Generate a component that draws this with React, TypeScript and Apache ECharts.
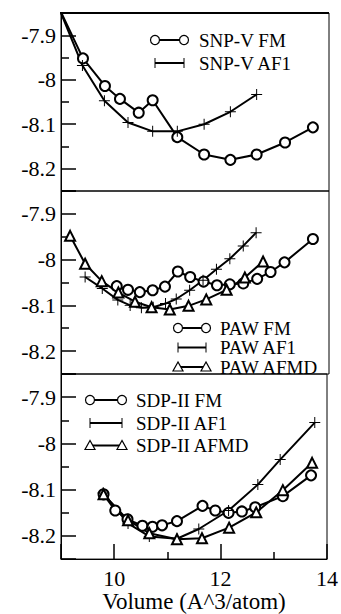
import React, { useEffect, useRef } from "react";
import * as echarts from "echarts";

// Panel 1: SNP-V
const snpFmX = [8.85, 9.41, 9.82, 10.1, 10.45, 10.71, 11.17, 11.67, 12.16, 12.65, 13.18, 13.7];
const snpFmY = [-7.81, -7.952, -8.014, -8.043, -8.074, -8.046, -8.129, -8.168, -8.18, -8.168, -8.141, -8.107];
const snpAf1X = [8.85, 9.4, 9.81, 10.25, 10.71, 11.17, 11.67, 12.16, 12.65];
const snpAf1Y = [-7.806, -7.968, -8.047, -8.096, -8.116, -8.116, -8.1, -8.072, -8.033];

// Panel 2: PAW
const pawFmX = [10.04, 10.25, 10.47, 10.71, 10.94, 11.18, 11.41, 11.66, 11.91, 12.15, 12.4, 12.66, 12.91, 13.17, 13.7];
const pawFmY = [-8.058, -8.066, -8.071, -8.067, -8.059, -8.026, -8.038, -8.048, -8.056, -8.054, -8.052, -8.042, -8.027, -8.006, -7.955];
const pawAf1X = [9.45, 9.77, 10.06, 10.29, 10.5, 10.72, 10.95, 11.15, 11.4, 11.65, 11.9, 12.15, 12.4, 12.64];
const pawAf1Y = [-8.038, -8.063, -8.088, -8.1, -8.105, -8.104, -8.096, -8.086, -8.067, -8.045, -8.021, -7.998, -7.97, -7.941];
const pawAfmdX = [9.17, 9.45, 9.76, 10.07, 10.38, 10.69, 11.03, 11.38, 11.71, 12.09, 12.43, 12.77];
const pawAfmdY = [-7.948, -8.009, -8.047, -8.072, -8.092, -8.104, -8.109, -8.101, -8.087, -8.066, -8.039, -8.004];

// Panel 3: SDP-II
const sdpFmX = [9.8, 10.02, 10.25, 10.53, 10.72, 10.9, 11.18, 11.66, 11.9, 12.15, 12.4, 12.65, 13.17, 13.7];
const sdpFmY = [-8.11, -8.145, -8.164, -8.178, -8.18, -8.177, -8.168, -8.135, -8.145, -8.15, -8.147, -8.138, -8.114, -8.069];
const sdpAf1X = [9.79, 10.26, 10.66, 11.18, 11.59, 12.15, 12.7, 13.12, 13.77];
const sdpAf1Y = [-8.107, -8.173, -8.201, -8.206, -8.185, -8.145, -8.089, -8.035, -7.955];
const sdpAfmdX = [9.8, 10.26, 10.66, 11.18, 11.65, 12.16, 12.67, 13.17, 13.72];
const sdpAfmdY = [-8.11, -8.166, -8.194, -8.207, -8.205, -8.182, -8.149, -8.101, -8.042];

const seriesNames = [
  ["SNP-V FM", "SNP-V AF1"],
  ["PAW FM", "PAW AF1", "PAW AFMD"],
  ["SDP-II FM", "SDP-II AF1", "SDP-II AFMD"],
];

const yMin = -8.25;
const yMax = -7.85;
const xMin = 9;
const xMax = 14;
const xTitle = "Volume (A^3/atom)";

const FONT = "Liberation Serif";
const PLUS = "path://M4.55 0h0.9v10h-0.9z M0 4.55h10v0.9h-10z";

type Kind = "circle" | "plus" | "triangle";

const zip = (xs: number[], ys: number[]) => xs.map((x, i) => [x, ys[i]]);

function makeSeries(name: string, kind: Kind, data: number[][], idx: number) {
  const symbol = kind === "circle" ? "emptyCircle" : kind === "triangle" ? "emptyTriangle" : PLUS;
  return {
    type: "line",
    name,
    xAxisIndex: idx,
    yAxisIndex: idx,
    data,
    symbol,
    symbolSize: kind === "circle" ? 10 : kind === "triangle" ? 10 : 11,
    symbolKeepAspect: true,
    clip: true,
    lineStyle: { color: "#000", width: 2 },
    itemStyle: { color: "#000", borderColor: "#000", borderWidth: kind === "plus" ? 0 : 1.2 },
    emphasis: { disabled: true },
  };
}

function legendItem(x1: number, x2: number, y: number, tx: number, kind: Kind, name: string) {
  const children: any[] = [
    { type: "line", shape: { x1, y1: y, x2, y2: y }, style: { stroke: "#000", lineWidth: 2 } },
  ];
  for (const cx of [x1, x2]) {
    if (kind === "circle") {
      children.push({ type: "circle", shape: { cx, cy: y, r: 4.5 }, style: { fill: "#fff", stroke: "#000", lineWidth: 1.2 } });
    } else if (kind === "plus") {
      children.push({ type: "line", shape: { x1: cx, y1: y - 5, x2: cx, y2: y + 5 }, style: { stroke: "#000", lineWidth: 1 } });
    } else {
      children.push({
        type: "polygon",
        shape: { points: [[cx, y - 5], [cx - 5, y + 4], [cx + 5, y + 4]] },
        style: { fill: "#fff", stroke: "#000", lineWidth: 1.2 },
      });
    }
  }
  children.push({
    type: "text",
    x: tx,
    y,
    style: { text: name, fontFamily: FONT, fontSize: 19, fill: "#000", verticalAlign: "middle", align: "left" },
  });
  return { type: "group", children };
}

export default function App() {
  const ref = useRef<HTMLDivElement>(null);
  useEffect(() => {
    if (!ref.current) return;
    const chart = echarts.init(ref.current, undefined, { renderer: "svg" });
    const grids = [
      { left: 61, top: 13, width: 268, height: 178 },
      { left: 61, top: 191, width: 268, height: 183 },
      { left: 61, top: 374, width: 268, height: 190 },
    ].map((g) => ({ ...g, show: true, borderColor: "#000", borderWidth: 1, backgroundColor: "transparent" }));

    const xAxes = [0, 1, 2].map((i) => ({
      type: "value",
      gridIndex: i,
      min: xMin,
      max: xMax,
      splitNumber: 3,
      show: i === 2,
      name: i === 2 ? xTitle : "",
      nameLocation: "middle",
      nameGap: 23,
      nameTextStyle: { fontFamily: FONT, fontWeight: "normal", fontSize: 23, color: "#000", verticalAlign: "top" },
      axisLine: { show: true, lineStyle: { color: "#000", width: 1 } },
      axisTick: { show: true, inside: true, length: 15, lineStyle: { color: "#000", width: 1.5 } },
      minorTick: { show: true, splitNumber: 2, length: 7, lineStyle: { color: "#000", width: 1.5 } },
      axisLabel: { show: true, showMinLabel: false, margin: 8, fontFamily: FONT, fontWeight: "normal", fontSize: 22, color: "#000" },
      splitLine: { show: false },
    }));

    const yAxes = [0, 1, 2].map((i) => ({
      type: "value",
      gridIndex: i,
      min: yMin,
      max: yMax,
      splitNumber: 4,
      axisLine: { show: true, lineStyle: { color: "#000", width: 1 } },
      axisTick: { show: true, inside: true, length: 15, lineStyle: { color: "#000", width: 1.5 } },
      minorTick: { show: true, splitNumber: 2, length: 8, lineStyle: { color: "#000", width: 1.5 } },
      axisLabel: { show: true, showMinLabel: false, showMaxLabel: false, margin: 5, fontFamily: FONT, fontWeight: "normal", fontSize: 22, color: "#000" },
      splitLine: { show: false },
    }));

    const series = [
      makeSeries(seriesNames[0][0], "circle", zip(snpFmX, snpFmY), 0),
      makeSeries(seriesNames[0][1], "plus", zip(snpAf1X, snpAf1Y), 0),
      makeSeries(seriesNames[1][0], "circle", zip(pawFmX, pawFmY), 1),
      makeSeries(seriesNames[1][1], "plus", zip(pawAf1X, pawAf1Y), 1),
      makeSeries(seriesNames[1][2], "triangle", zip(pawAfmdX, pawAfmdY), 1),
      makeSeries(seriesNames[2][0], "circle", zip(sdpFmX, sdpFmY), 2),
      makeSeries(seriesNames[2][1], "plus", zip(sdpAf1X, sdpAf1Y), 2),
      makeSeries(seriesNames[2][2], "triangle", zip(sdpAfmdX, sdpAfmdY), 2),
    ];

    const graphic = [
      { type: "line", shape: { x1: 61, y1: 13, x2: 329, y2: 13 }, style: { stroke: "#000", lineWidth: 2 }, z: 100 },
      legendItem(155, 184, 40, 199, "circle", seriesNames[0][0]),
      legendItem(155, 184, 63, 199, "plus", seriesNames[0][1]),
      legendItem(178, 206, 328, 220, "circle", seriesNames[1][0]),
      legendItem(178, 206, 347.5, 220, "plus", seriesNames[1][1]),
      legendItem(178, 206, 367, 220, "triangle", seriesNames[1][2]),
      legendItem(90, 122, 400, 136, "circle", seriesNames[2][0]),
      legendItem(90, 122, 423, 136, "plus", seriesNames[2][1]),
      legendItem(90, 122, 445.5, 136, "triangle", seriesNames[2][2]),
    ];

    chart.setOption({
      animation: false,
      backgroundColor: "#fff",
      textStyle: { fontFamily: FONT, fontWeight: "normal" },
      grid: grids,
      xAxis: xAxes,
      yAxis: yAxes,
      series,
      graphic,
    });
    return () => chart.dispose();
  }, []);
  return <div ref={ref} style={{ position: "fixed", left: 0, top: 0, width: 341, height: 614 }} />;
}
